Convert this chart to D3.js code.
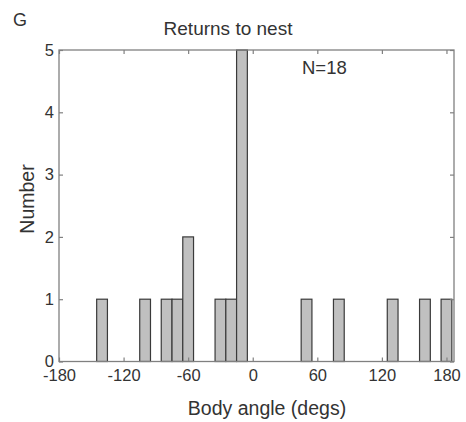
<!DOCTYPE html>
<html>
<head>
<meta charset="utf-8">
<script src="https://cdn.jsdelivr.net/npm/d3@7"></script>
<style>
  body { margin: 0; background: #fff; }
  text { font-family: "Liberation Sans", Arial, sans-serif; fill: #333; }
</style>
</head>
<body>
<svg id="chart" width="466" height="422"></svg>
<script>
// histogram of body angle, 10 degree bins (centres)
var binCenters = [-140, -100, -80, -70, -60, -30, -20, -10, 50, 80, 130, 160, 180];
var counts     = [1, 1, 1, 1, 2, 1, 1, 5, 1, 1, 1, 1, 1];
var binWidth = 10;
var xTicks = [-180, -120, -60, 0, 60, 120, 180];
var yTicks = [0, 1, 2, 3, 4, 5];

var plotLeft = 59, plotRight = 454, plotTop = 50, plotBottom = 361.5;
var axisColor = '#808080';

var svg = d3.select('#chart');

var x = d3.scaleLinear().domain([-180, 187]).range([plotLeft, plotRight]);
var y = d3.scaleLinear().domain([0, 5]).range([plotBottom, plotTop]);

var data = binCenters.map(function(c, i) { return {c: c, n: counts[i]}; });

// bars
svg.append('g').selectAll('rect')
    .data(data)
  .enter().append('rect')
    .attr('x', function(d) { return x(d.c - binWidth / 2); })
    .attr('y', function(d) { return y(d.n); })
    .attr('width', function(d) { return x(d.c + binWidth / 2) - x(d.c - binWidth / 2); })
    .attr('height', function(d) { return y(0) - y(d.n); })
    .attr('fill', '#c0c0c0')
    .attr('stroke', '#3a3a3a')
    .attr('stroke-width', 1.2);

// axes, ticks pointing inward
function styleAxis(g) {
  g.select('.domain').remove();
  g.selectAll('.tick line').attr('stroke', axisColor).attr('stroke-width', 1.2);
  g.selectAll('.tick text').style('font-size', '16.5px').attr('fill', '#333');
}
var plain = function(d) { return String(d); };

svg.append('g')
    .attr('transform', 'translate(0,' + plotBottom + ')')
    .call(d3.axisBottom(x).tickValues(xTicks).tickFormat(plain).tickSizeInner(-4).tickSizeOuter(0).tickPadding(8))
    .call(styleAxis);

svg.append('g')
    .attr('transform', 'translate(0,' + plotTop + ')')
    .call(d3.axisTop(x).tickValues(xTicks).tickSizeInner(-4).tickSizeOuter(0).tickFormat(''))
    .call(styleAxis);

svg.append('g')
    .attr('transform', 'translate(' + plotLeft + ',0)')
    .call(d3.axisLeft(y).tickValues(yTicks).tickFormat(plain).tickSizeInner(-4).tickSizeOuter(0).tickPadding(5))
    .call(styleAxis);

svg.append('g')
    .attr('transform', 'translate(' + plotRight + ',0)')
    .call(d3.axisRight(y).tickValues(yTicks).tickSizeInner(-4).tickSizeOuter(0).tickFormat(''))
    .call(styleAxis);

// box
svg.append('rect')
    .attr('x', plotLeft).attr('y', plotTop)
    .attr('width', plotRight - plotLeft).attr('height', plotBottom - plotTop)
    .attr('fill', 'none')
    .attr('stroke', axisColor)
    .attr('stroke-width', 1.3);

// labels
svg.append('text').attr('x', 13).attr('y', 26).style('font-size', '18px').text('G');

svg.append('text')
    .attr('x', 228).attr('y', 35)
    .attr('text-anchor', 'middle')
    .style('font-size', '19px')
    .text('Returns to nest');

svg.append('text')
    .attr('x', 302).attr('y', 74)
    .style('font-size', '18.5px')
    .text('N=18');

svg.append('text')
    .attr('x', 267).attr('y', 415)
    .attr('text-anchor', 'middle')
    .style('font-size', '19.5px')
    .text('Body angle (degs)');

svg.append('text')
    .attr('transform', 'translate(34,199) rotate(-90)')
    .attr('text-anchor', 'middle')
    .style('font-size', '19.5px')
    .text('Number');
</script>
</body>
</html>
